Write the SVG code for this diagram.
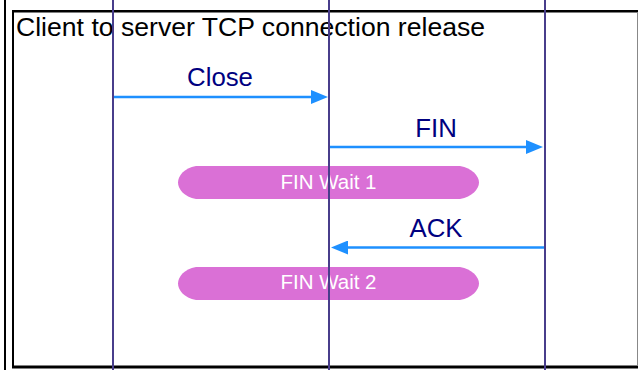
<svg xmlns="http://www.w3.org/2000/svg" width="638" height="370" viewBox="0 0 638 370">
  <style>
    .frame { fill: none; stroke: #000; }
    .title { font-family: "Liberation Sans", Arial, sans-serif; font-size: 26.6px; fill: #000; }
    .msg { stroke: #1E90FF; stroke-width: 2.5; fill: none; marker-end: url(#arrow); }
    .msg-label { font-family: "Liberation Sans", Arial, sans-serif; font-size: 25.8px; fill: #000080; text-anchor: middle; }
    .state { fill: #DA70D6; }
    .state-label { font-family: "Liberation Sans", Arial, sans-serif; font-size: 20.5px; fill: #FFFFFF; text-anchor: middle; }
    .lifeline { stroke: #483D8B; stroke-width: 2; }
  </style>
  <defs>
    <marker id="arrow" markerUnits="userSpaceOnUse" markerWidth="17" markerHeight="14" refX="7" refY="7" orient="auto">
      <path d="M0,0 L17,7 L0,14 Z" fill="#1E90FF"/>
    </marker>
  </defs>

  <rect width="638" height="370" fill="#FFFFFF"/>

  <!-- frame -->
  <g id="frame">
    <line class="frame" x1="5" y1="0" x2="5" y2="370" stroke-width="2"/>
    <line class="frame" x1="12" y1="11.2" x2="638" y2="11.2" stroke-width="2.5"/>
    <line class="frame" x1="13" y1="10" x2="13" y2="368" stroke-width="2"/>
    <line class="frame" x1="12" y1="367" x2="638" y2="367" stroke-width="3"/>
    <line x1="637.5" y1="12" x2="637.5" y2="366" stroke="#888888" stroke-width="1"/>
  </g>

  <text class="title" x="16" y="36">Client to server TCP connection release</text>

  <!-- states on the client side -->
  <g id="fin-wait-1">
    <path class="state" d="M196,166 L460,166 C472,168 479,176 479,182.5 C479,189 472,197 460,199 L196,199 C184,197 178,189 178,182.5 C178,176 184,168 196,166 Z"/>
    <text class="state-label" x="328.5" y="188.5">FIN Wait 1</text>
  </g>
  <g id="fin-wait-2">
    <path class="state" d="M196,267 L460,267 C472,269 479,277 479,283.5 C479,290 472,298 460,300 L196,300 C184,298 178,290 178,283.5 C178,277 184,269 196,267 Z"/>
    <text class="state-label" x="328.5" y="288.5">FIN Wait 2</text>
  </g>

  <!-- messages -->
  <g id="connectors">
    <line class="msg" x1="113" y1="97" x2="318" y2="97"/>
    <text class="msg-label" x="220" y="86">Close</text>
    <line class="msg" x1="329" y1="147" x2="533" y2="147"/>
    <text class="msg-label" x="436" y="136.5">FIN</text>
    <line class="msg" x1="545" y1="247.5" x2="341" y2="247.5"/>
    <text class="msg-label" x="436" y="237">ACK</text>
  </g>

  <!-- lifelines -->
  <g id="lifelines">
    <line class="lifeline" x1="113" y1="0" x2="113" y2="370"/>
    <line class="lifeline" x1="329" y1="0" x2="329" y2="370"/>
    <line class="lifeline" x1="545" y1="0" x2="545" y2="370"/>
  </g>
</svg>
